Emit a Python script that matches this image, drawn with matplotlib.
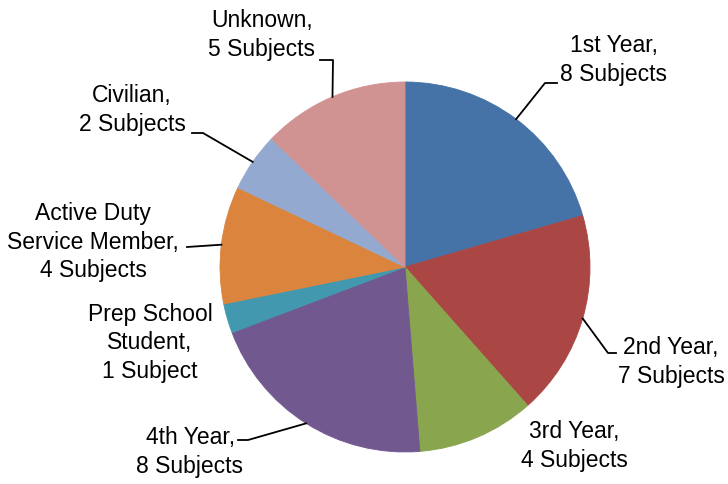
import numpy as np
import matplotlib.pyplot as plt

plt.rcParams['font.family'] = ['Liberation Sans', 'DejaVu Sans']

categories = ['1st Year', '2nd Year', '3rd Year', '4th Year',
              'Prep School\nStudent', 'Active Duty\nService Member',
              'Civilian', 'Unknown']
subjects = [8, 7, 4, 8, 1, 4, 2, 5]
colors = ['#4572A7', '#AA4643', '#89A54E', '#71588F',
          '#4198AF', '#DB843D', '#93A9CF', '#D19392']

H = 484
# label centre (pixel coords, y down) and leader elbow / end (None = no leader)
label_pos = [(614, 60), (671, 362), (574, 446), (190, 452),
             (150, 343), (93, 242), (132, 110), (262, 35)]
leaders = [[(545, 83), (557, 83)],
           [(608, 353), (616, 353)],
           None,
           [(248, 440), (238, 440)],
           None,
           [(187, 247)],
           [(203, 133), (192, 133)],
           [(333, 60), (320, 60)]]

fig = plt.figure(figsize=(7.28, 4.84), dpi=100)
ax = fig.add_axes([0, 0, 1, 1])

cx, cy, r = 405, H - 267, 185
wedges, _ = ax.pie(subjects, colors=colors, startangle=90, counterclock=False,
                   center=(cx, cy), radius=r, frame=True)
for w, c in zip(wedges, colors):
    w.set_edgecolor(c)
    w.set_linewidth(0.6)

ax.set_xlim(0, 728)
ax.set_ylim(0, H)
ax.set_aspect('equal')
ax.axis('off')

for w, cat, n, pos, lead in zip(wedges, categories, subjects, label_pos, leaders):
    unit = 'Subject' if n == 1 else 'Subjects'
    txt = f'{cat},\n{n} {unit}'
    ax.text(pos[0], H - pos[1], txt, ha='center', va='center',
            fontsize=16.5, linespacing=1.3, color='black')
    if lead:
        mid = np.deg2rad((w.theta1 + w.theta2) / 2)
        xs = [cx + r * np.cos(mid)] + [p[0] for p in lead]
        ys = [cy + r * np.sin(mid)] + [H - p[1] for p in lead]
        ax.plot(xs, ys, color='black', lw=1.3)

fig.savefig('out.png', dpi=100)
